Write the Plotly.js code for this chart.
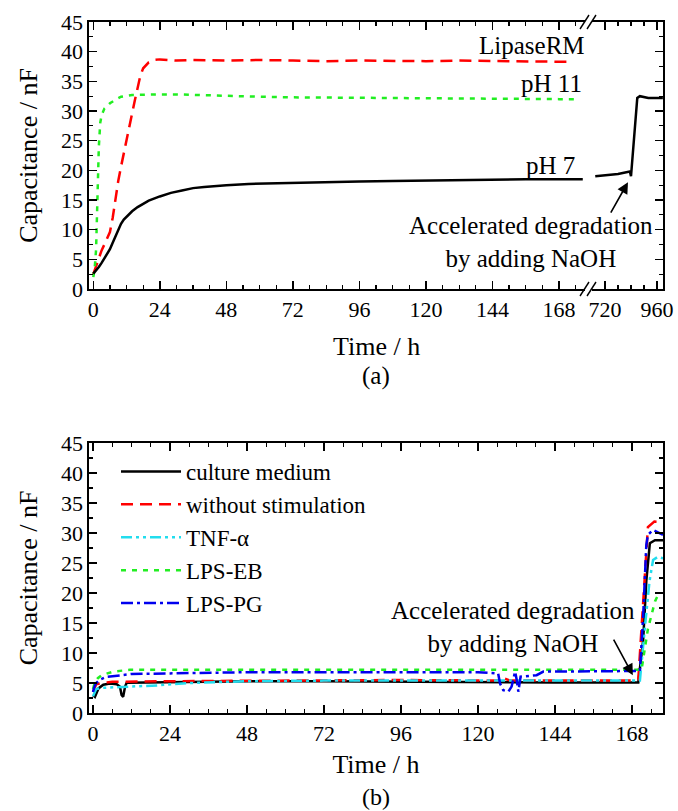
<!DOCTYPE html>
<html>
<head>
<meta charset="utf-8">
<script src="https://cdn.plot.ly/plotly-3.0.1.min.js"></script>
<style>html,body{margin:0;padding:0;background:#fff;}#chart{width:678px;height:811px;}</style>
</head>
<body>
<div id="chart"></div>
<script>
// ---------- Panel (a) ----------
const aLipaseT = [0,1,2,3,4,5,6,7,8,9,10,11,12,13,14,15,16,17,18,19,20,22,24,30,36,48,60,72,84,96,108,120,132,144,156,168,173];
const aLipaseV = [2.5,3.8,5.3,6.5,7.5,8.5,9.6,12.0,15.2,18.2,20.6,23.0,25.3,27.5,29.6,31.8,34.0,36.0,37.2,37.8,38.2,38.6,38.7,38.5,38.6,38.5,38.6,38.5,38.4,38.5,38.4,38.4,38.5,38.4,38.4,38.3,38.3];
const aPH11T = [0,0.5,1,1.5,2,2.5,3,4,6,8,10,14,20,24,30,36,48,60,72,96,120,144,168,174.5];
const aPH11V = [2.0,3.5,6.6,15.5,24,28,29.3,30.4,31.3,31.9,32.4,32.7,32.8,32.8,32.8,32.7,32.5,32.4,32.3,32.2,32.1,32.1,32.0,32.0];
const aPH7T = [0,1,2,3,4,5,6,7,8,9,10,11,12,14,16,18,20,24,28,32,36,40,44,48,56,64,72,84,96,108,120,132,144,156,168,176.6];
const aPH7V = [2.6,3.1,3.7,4.4,5.2,5.9,6.7,7.8,8.9,10.0,11.0,11.7,12.2,13.1,13.8,14.4,14.9,15.6,16.2,16.6,17.0,17.2,17.4,17.5,17.7,17.8,17.9,18.0,18.1,18.2,18.3,18.4,18.4,18.5,18.5,18.5];
// after the axis break (720–960 h)
const aPH7LateT = [675,720,780,835,840,869,881,920,987];
const aPH7LateV = [19.0,19.2,19.4,19.8,19.0,32.2,32.5,32.2,32.2];
const aTicks1 = [0,24,48,72,96,120,144,168];
const aTicks2 = [720,960];

// ---------- Panel (b) ----------
const bNames = ["culture medium","without stimulation","TNF-\u03b1","LPS-EB","LPS-PG"];
const bMediumT = [0,0.6,1.7,3.2,5.3,7.4,8.4,8.9,9.4,10,10.5,16,24,36,48,72,96,120,144,168,170,171.5,172.5,173.6,175.2,177.7];
const bMediumV = [3.0,2.7,4.1,4.7,4.9,4.8,4.4,3.0,2.7,4.4,5.05,5.1,5.1,5.2,5.3,5.3,5.2,5.1,5.1,5.1,5.1,12,22,28.3,28.8,28.8];
const bNoStimT = [0,1,3,6,24,48,96,126,128,130,168,170,171.5,173,175,177.7];
const bNoStimV = [3.5,4.8,5.0,5.2,5.3,5.4,5.5,5.4,5.8,5.4,5.4,5.6,18,31,31.9,31.8];
const bTnfT = [0,0.5,1,3,8,12,20,30,48,72,96,120,144,168,170.5,172,173.5,174.6,176,177.7];
const bTnfV = [2.8,3.5,4.0,4.2,4.3,4.4,4.6,5.0,5.3,5.4,5.4,5.3,5.3,5.3,5.4,14,22,25.5,26.0,25.8];
const bEbT = [0,0.5,1.5,2.7,6.3,11.5,24,48,96,144,168,171,173,175.2,176];
const bEbV = [4.0,5.0,5.8,6.3,6.9,7.2,7.2,7.2,7.1,7.1,7.1,7.2,14,18.6,19.5];
const bPgT = [0,0.5,1,2,4,8,12,24,48,72,96,120,126.3,126.9,127.9,129.5,130.5,131.6,132.1,132.6,133.3,138.3,140.4,168,170.5,171.5,172.5,173,174.6,177.7];
const bPgV = [3.5,4.5,5.0,5.5,6.0,6.3,6.5,6.6,6.8,6.8,6.8,6.8,6.6,4.9,3.8,3.55,4.4,6.9,5.5,3.55,6.05,6.3,6.9,6.9,7.0,16,28,29.7,30.5,29.7];
const bTicks = [0,24,48,72,96,120,144,168];

const FONT = "'Liberation Serif', 'Times New Roman', Times, serif";
const TICKF = {family: FONT, size: 22, color: "#000"};
const LW = 2.5;

const traces = [
  {x: aLipaseT, y: aLipaseV, xaxis: "x", yaxis: "y", mode: "lines", showlegend: false,
   line: {color: "#ff0000", width: LW, dash: "12px,7px"}},
  {x: aPH11T, y: aPH11V, xaxis: "x", yaxis: "y", mode: "lines", showlegend: false,
   line: {color: "#22ee22", width: LW, dash: "5px,6px"}},
  {x: aPH7T, y: aPH7V, xaxis: "x", yaxis: "y", mode: "lines", showlegend: false,
   line: {color: "#000", width: LW}},
  {x: aPH7LateT, y: aPH7LateV, xaxis: "x2", yaxis: "y2", mode: "lines", showlegend: false,
   line: {color: "#000", width: LW}},
  {x: bMediumT, y: bMediumV, xaxis: "x3", yaxis: "y3", mode: "lines", name: bNames[0],
   line: {color: "#000", width: LW}},
  {x: bNoStimT, y: bNoStimV, xaxis: "x3", yaxis: "y3", mode: "lines", name: bNames[1],
   line: {color: "#ff0000", width: LW, dash: "12px,7px"}},
  {x: bTnfT, y: bTnfV, xaxis: "x3", yaxis: "y3", mode: "lines", name: bNames[2],
   line: {color: "#22ddee", width: LW, dash: "11px,4px,3px,4px,3px,4px"}},
  {x: bEbT, y: bEbV, xaxis: "x3", yaxis: "y3", mode: "lines", name: bNames[3],
   line: {color: "#22ee22", width: LW, dash: "5px,6px"}},
  {x: bPgT, y: bPgV, xaxis: "x3", yaxis: "y3", mode: "lines", name: bNames[4],
   line: {color: "#0000ee", width: LW, dash: "12px,4px,3px,4px"}}
];

const axBase = {
  showline: true, linecolor: "#000", linewidth: 1.6, ticks: "inside", ticklen: 8, tickwidth: 1.4,
  tickcolor: "#000", showgrid: false, zeroline: false, tickfont: TICKF, mirror: "ticks"
};
function ax(extra) { return Object.assign({}, JSON.parse(JSON.stringify(axBase)), extra); }
function minor(d) { return {ticks: "inside", ticklen: 4, tickwidth: 1.2, tickcolor: "#000", dtick: d, tick0: 0, showgrid: false}; }

const W = 574, H = 691, L = 89, T = 22;
const px = v => (v - L) / W;
const py = v => (713 - v) / H;

const breakShapes = [];
[22, 289].forEach(yy => {
  [[580, 589], [587, 596]].forEach(([a, b]) => {
    breakShapes.push({type: "line", xref: "paper", yref: "paper",
      x0: px(a), y0: py(yy + 7), x1: px(b), y1: py(yy - 7), line: {color: "#000", width: 1.4}});
  });
});

const layout = {
  width: 678, height: 811,
  margin: {l: L, r: 15, t: T, b: 98},
  paper_bgcolor: "#fff", plot_bgcolor: "#fff",
  font: {family: FONT, color: "#000"},
  xaxis: ax({domain: [0, px(585)], range: [-1.55, 177.4], tickvals: aTicks1, anchor: "y", minor: minor(6)}),
  xaxis2: ax({domain: [px(592), 1], range: [660, 987.7], tickvals: aTicks2, anchor: "y2", minor: minor(60)}),
  yaxis: ax({domain: [py(289), 1], range: [0, 45], dtick: 5, anchor: "x", mirror: false, minor: minor(2.5),
    title: {text: "Capacitance / nF", font: {family: FONT, size: 26}, standoff: 16}}),
  yaxis2: ax({domain: [py(289), 1], range: [0, 45], dtick: 5, anchor: "x2", side: "right",
    mirror: false, showticklabels: false, minor: minor(2.5)}),
  xaxis3: ax({domain: [0, 1], range: [-1.25, 177.7], tickvals: bTicks, anchor: "y3", minor: minor(6),
    title: {text: "Time / h", font: {family: FONT, size: 26}, standoff: 10}}),
  yaxis3: ax({domain: [0, py(443)], range: [0, 45], dtick: 5, anchor: "x3", minor: minor(2.5),
    title: {text: "Capacitance / nF", font: {family: FONT, size: 26}, standoff: 16}}),
  showlegend: true,
  legend: {x: px(116), y: py(450), xanchor: "left", yanchor: "top", bgcolor: "rgba(0,0,0,0)",
    font: {family: FONT, size: 23, color: "#000"}, itemwidth: 60, tracegroupgap: 0},
  shapes: breakShapes,
  annotations: [
    {xref: "paper", yref: "paper", x: 0.5, y: py(346), text: "Time / h", showarrow: false,
     font: {family: FONT, size: 26}, xanchor: "center", yanchor: "middle"},
    {xref: "paper", yref: "paper", x: 0.5, y: py(376), text: "(a)", showarrow: false,
     font: {family: FONT, size: 25}, xanchor: "center", yanchor: "middle"},
    {xref: "paper", yref: "paper", x: 0.5, y: py(797), text: "(b)", showarrow: false,
     font: {family: FONT, size: 24}, xanchor: "center", yanchor: "middle"},
    {xref: "paper", yref: "paper", x: px(532), y: py(45), text: "LipaseRM", showarrow: false,
     font: {family: FONT, size: 25}, xanchor: "center", yanchor: "middle"},
    {xref: "paper", yref: "paper", x: px(551), y: py(84), text: "pH 11", showarrow: false,
     font: {family: FONT, size: 25}, xanchor: "center", yanchor: "middle"},
    {xref: "paper", yref: "paper", x: px(550), y: py(165), text: "pH 7", showarrow: false,
     font: {family: FONT, size: 25}, xanchor: "center", yanchor: "middle"},
    {xref: "paper", yref: "paper", x: px(531), y: py(242), text: "Accelerated degradation<br>by adding NaOH",
     showarrow: false, font: {family: FONT, size: 25}, xanchor: "center", yanchor: "middle", align: "center"},
    {xref: "x2", yref: "y2", x: 826, y: 18.0, ax: -18, ay: 32, text: "", showarrow: true,
     arrowhead: 2, arrowsize: 1.4, arrowwidth: 1.6, arrowcolor: "#000"},
    {xref: "paper", yref: "paper", x: px(513), y: py(627), text: "Accelerated degradation<br>by adding NaOH",
     showarrow: false, font: {family: FONT, size: 25}, xanchor: "center", yanchor: "middle", align: "center"},
    {xref: "x3", yref: "y3", x: 168.3, y: 6.3, ax: -20, ay: -37, text: "", showarrow: true,
     arrowhead: 2, arrowsize: 1.4, arrowwidth: 1.6, arrowcolor: "#000"}
  ]
};

Plotly.newPlot("chart", traces, layout, {displayModeBar: false, staticPlot: true});
</script>
</body>
</html>
